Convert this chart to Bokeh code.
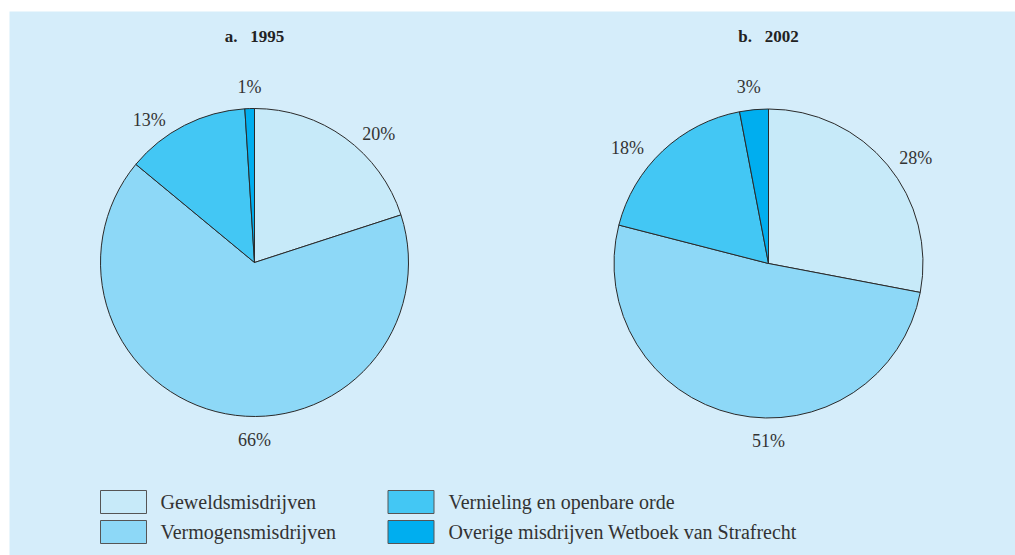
import math
from bokeh.plotting import figure
from bokeh.models import Range1d, ColumnDataSource
from bokeh.core.properties import value
from bokeh.embed import file_html
from bokeh.resources import INLINE

# ---- data ----
categories = ["Geweldsmisdrijven", "Vermogensmisdrijven",
              "Vernieling en openbare orde", "Overige misdrijven Wetboek van Strafrecht"]
colors = ["#c7eaf9", "#8dd8f7", "#43c7f4", "#00aeef"]
titles = ["a.\u00a0\u00a0\u00a01995", "b.\u00a0\u00a0\u00a02002"]
values_1995 = [20, 66, 13, 1]
values_2002 = [28, 51, 18, 3]

# ---- layout settings ----
W, H = 1015, 555
BG = "#d5edfa"
TXT = "#333333"
SERIF = "Liberation Serif"
pies = [
    dict(vals=values_1995, title=titles[0], cx=254, cy=293, r=154,
         label_ang=[46, -90, 126.5, 91.6], label_r=[179, 177, 177, 176]),
    dict(vals=values_2002, title=titles[1], cx=768, cy=292, r=154.5,
         label_ang=[35.5, -90, 140.8, 96.4], label_r=[181, 177, 182, 178]),
]

p = figure(width=W, height=H, output_backend="svg", toolbar_location=None,
           x_range=Range1d(9, 1015), y_range=Range1d(0, 544),
           min_border_left=9, min_border_top=11, min_border_right=0, min_border_bottom=0)
p.background_fill_color = BG
p.border_fill_color = "white"
p.outline_line_color = None
p.axis.visible = False
p.grid.visible = False

for pie in pies:
    vals = pie["vals"]
    total = float(sum(vals))
    starts, ends, lx, ly, labels = [], [], [], [], []
    cum = 0.0
    for i, v in enumerate(vals):
        a_end = math.pi / 2 - 2 * math.pi * cum / total
        cum += v
        a_start = math.pi / 2 - 2 * math.pi * cum / total
        starts.append(a_start)
        ends.append(a_end)
        ang = math.radians(pie["label_ang"][i])
        lx.append(pie["cx"] + pie["label_r"][i] * math.cos(ang))
        ly.append(pie["cy"] + pie["label_r"][i] * math.sin(ang))
        labels.append(f"{v}%")
    src = ColumnDataSource(dict(start=starts, end=ends, color=colors,
                                x=[pie["cx"]] * 4, y=[pie["cy"]] * 4))
    p.wedge(x="x", y="y", radius=pie["r"], start_angle="start", end_angle="end",
            fill_color="color", line_color="#2a2a2a", line_width=1, source=src)
    p.text(x=lx, y=ly, text=labels, text_align="center", text_baseline="middle",
           text_font=value(SERIF), text_font_size="18px", text_color=TXT)
    p.text(x=[pie["cx"]], y=[555 - 36], text=[pie["title"]], text_align="center",
           text_baseline="middle", text_font=value(SERIF), text_font_size="17px",
           text_font_style="bold", text_color="#222222")

# legend
box_x = [123, 123, 410.5, 410.5]
box_y = [555 - 501.5, 555 - 531.5, 555 - 501.5, 555 - 531.5]
txt_x = [160, 160, 448, 448]
p.rect(x=box_x, y=box_y, width=46, height=23, fill_color=colors,
       line_color="#555555", line_width=1)
p.text(x=txt_x, y=box_y, text=categories, text_align="left", text_baseline="middle",
       text_font=value(SERIF), text_font_size="20px", text_color=TXT)

open("out.html", "w").write(file_html(p, INLINE))
